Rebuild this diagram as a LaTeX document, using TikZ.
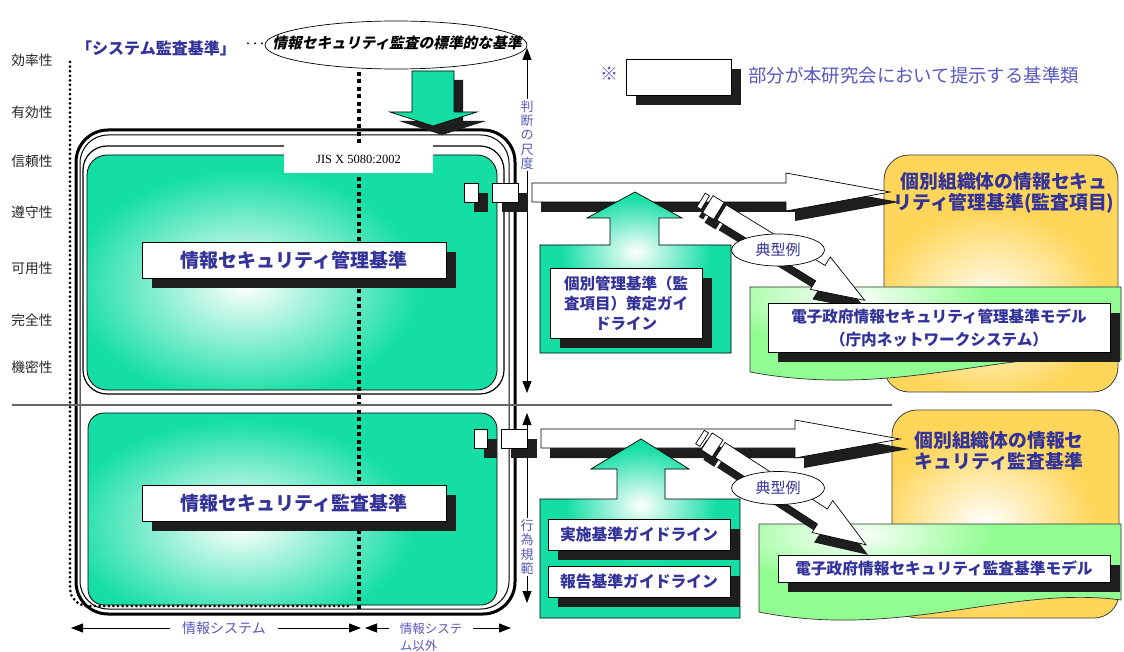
\documentclass[tikz,border=0pt]{standalone}
\usepackage{fontspec}
\setmainfont{Noto Sans CJK JP}
\newfontfamily\jisfont{Liberation Serif}
\newfontfamily\cjkbi{Noto Sans CJK JP}[FakeSlant=0.22,BoldFeatures={FakeSlant=0.22}]
\usetikzlibrary{shapes.geometric,arrows.meta,shadows}
\definecolor{tealc}{RGB}{20,222,164}
\definecolor{ylwc}{RGB}{255,214,90}
\definecolor{lgreen}{RGB}{145,252,145}
\definecolor{txtblue}{RGB}{51,51,153}
\definecolor{lblue}{RGB}{88,88,190}
\definecolor{shadowc}{RGB}{30,30,30}

\newcommand{\GradShape}[6]{%
  \begin{scope}
    \clip #1;
    \fill[#2] #1;
    \shade[inner color=white, outer color=#2] #3 ellipse [x radius=#4, y radius=#5];
  \end{scope}
  \draw[#6] #1;
}
\newcommand{\StripeShape}[2]{%
  \path[#2] (0,-8) rectangle (5,8);
  \path[#2] (8,-10) rectangle (21,10);
  \path[#2] (24,-9) -- ({#1-52},-9) -- ({#1-52},-19) -- (#1,0) -- ({#1-52},19) -- ({#1-52},9) -- (24,9) -- cycle;
}
\newcommand{\StripeArrow}[3]{%
  \begin{scope}[shift={#1}, xshift=2pt, yshift=-10pt, rotate=-#2]
    \StripeShape{#3}{fill=shadowc}
  \end{scope}
  \begin{scope}[shift={#1}, rotate=-#2]
    \StripeShape{#3}{draw=black, fill=white, line width=0.7pt}
  \end{scope}
}

\begin{document}
\begin{tikzpicture}[x=1pt,y=-1pt,
  lab/.style={font=\fontsize{13.7}{16}\selectfont, text=black!85, inner sep=0pt},
  tbox/.style={draw=black, fill=white, line width=0.7pt, inner sep=0pt, text=txtblue, align=center,
    drop shadow={shadow xshift=10pt, shadow yshift=-10pt, fill=shadowc, opacity=1}},
  sq/.style={draw=black, fill=white, line width=0.7pt, inner sep=0pt,
    drop shadow={shadow xshift=10pt, shadow yshift=-10pt, fill=shadowc, opacity=1}},
  dblarrow/.style={line width=0.9pt, {Triangle[length=12pt,width=9pt]}-{Triangle[length=12pt,width=9pt]}},
  vlab/.style={fill=white, inner sep=1.5pt, align=center, text=lblue, font=\fontsize{13}{14.3}\selectfont},
  blab/.style={fill=white, inner ysep=1pt, text=lblue},
  tt/.style={text=txtblue, font=\bfseries\fontsize{18.8}{21}\selectfont, align=center, inner sep=0pt},
  ell/.style={draw=black, fill=white, ellipse, line width=0.7pt, inner sep=0pt},
  whitearrow/.style={draw=black, fill=white, line width=0.7pt},
]
\useasboundingbox (0,0) rectangle (1124,652);
\fill[white] (0,0) rectangle (1124,652);

% left labels
\foreach \t/\yy/\n in {効率性/60/a,有効性/112/b,信頼性/161/c,遵守性/212/d,可用性/268/e,完全性/320/f,機密性/367/g}
  \node[lab] (lab\n) at (32,\yy) {\t};

% top texts
\node[text=txtblue, font=\bfseries\fontsize{16}{18}\selectfont, inner sep=0pt] (sysaudit) at (156,48) {「システム監査基準」};
\node[font=\bfseries\fontsize{7}{8}\selectfont, inner sep=0pt] (dots) at (255,45) {・・・};
\node[ell, minimum width=262, minimum height=48] (stdell) at (396,45) {};
\node[font=\cjkbi\bfseries\fontsize{14.7}{16}\selectfont, inner sep=0pt] (stdtxt) at (397,43) {情報セキュリティ監査の標準的な基準};

% frames
\draw[line width=3pt, rounded corners=32pt] (76,130) rectangle (515,614);
\draw[line width=1pt, rounded corners=28pt] (80,135) rectangle (509,609);
\draw[line width=1.2pt, rounded corners=24pt] (83,146) rectangle (504,394);

% teal boxes
\GradShape{[rounded corners=20pt] (87,155) rectangle (497,390)}{tealc}{(245,285)}{175pt}{115pt}{draw=black, line width=0.8pt}
\GradShape{[rounded corners=16pt] (88,413) rectangle (497,605)}{tealc}{(240,525)}{175pt}{105pt}{draw=black, line width=0.8pt}

% dotted boundaries
\draw[line width=3pt, dash pattern=on 0pt off 4.6pt, line cap=round, rounded corners=18pt] (70,62) -- (70,606) -- (352,606);
\draw[line width=3.2pt, dash pattern=on 4pt off 3.5pt] (359,72) -- (359,612);

% separator
\draw[black!60, line width=1.3pt] (12,405) -- (892,405);

% labels in teal boxes
\node[fill=white, inner sep=0pt, minimum width=149, minimum height=28, font=\jisfont\fontsize{12.5}{14}\selectfont] (jis) at (358.5,159) {JIS X 5080:2002};
\node[tbox, minimum width=304, minimum height=36, font=\bfseries\fontsize{19}{22}\selectfont] (kanri) at (294,260) {情報セキュリティ管理基準};
\node[tbox, minimum width=304, minimum height=36, font=\bfseries\fontsize{19}{22}\selectfont] (kansa) at (294,503) {情報セキュリティ監査基準};

% green down arrow
\fill[shadowc, shift={(9,9)}] (412,71) -- (454,71) -- (454,112) -- (477,112) -- (433,126) -- (390,112) -- (412,112) -- cycle;
\draw[fill=tealc, line width=0.7pt] (412,71) -- (454,71) -- (454,112) -- (477,112) -- (433,126) -- (390,112) -- (412,112) -- cycle;

% vertical arrows
\coordinate (jt) at (527,48); \coordinate (jb) at (527,393);
\draw[dblarrow] (jt) -- (jb);
\node[vlab] (jlab) at (527,135) {判\\断\\の\\尺\\度};
\coordinate (kt) at (527,413); \coordinate (kb) at (527,603);
\draw[dblarrow] (kt) -- (kb);
\node[vlab] (klab) at (527,547) {行\\為\\規\\範};

% yellow boxes
\GradShape{[rounded corners=25pt] (884,155) rectangle (1118,392)}{ylwc}{(990,305)}{115pt}{95pt}{draw=black!75, line width=0.8pt}
\GradShape{[rounded corners=25pt] (892,410) rectangle (1119,618)}{ylwc}{(985,525)}{110pt}{90pt}{draw=black!75, line width=0.8pt}
\node[tt] (org1) at (1004,193) {個別組織体の情報セキュ\\リティ管理基準(監査項目)};
\node[tt] (org2) at (999,451) {個別組織体の情報セ\\キュリティ監査基準};

% light green document shapes
\GradShape{(750,287) -- (1121,287) -- (1121,360) .. controls (1010,345) and (900,400) .. (750,372) -- cycle}{lgreen}{(850,298)}{140pt}{48pt}{draw=black!80, line width=0.7pt}
\GradShape{(759,524) -- (1121,524) -- (1121,600) .. controls (1010,585) and (900,640) .. (759,612) -- cycle}{lgreen}{(855,535)}{140pt}{48pt}{draw=black!80, line width=0.7pt}

% white arrows
\fill[shadowc, shift={(9,10)}] (532,183) -- (786,183) -- (786,173) -- (890,192) -- (786,211) -- (786,202) -- (532,202) -- cycle;
\draw[whitearrow] (532,183) -- (786,183) -- (786,173) -- (890,192) -- (786,211) -- (786,202) -- (532,202) -- cycle;
\fill[shadowc, shift={(9,10)}] (541,429) -- (795,429) -- (795,420) -- (900,439) -- (795,458) -- (795,448) -- (541,448) -- cycle;
\draw[whitearrow] (541,429) -- (795,429) -- (795,420) -- (900,439) -- (795,458) -- (795,448) -- (541,448) -- cycle;

% green composites
\GradShape{(540,245) -- (610,245) -- (610,218) -- (587,218) -- (635,192) -- (682,218) -- (659,218) -- (659,245) -- (731,245) -- (731,353) -- (540,353) -- cycle}{tealc}{(636,252)}{75pt}{55pt}{draw=black, line width=0.7pt}
\GradShape{(540,499) -- (617,499) -- (617,469) -- (591,469) -- (641,439) -- (689,469) -- (665,469) -- (665,499) -- (740,499) -- (740,618) -- (540,618) -- cycle}{tealc}{(641,505)}{75pt}{58pt}{draw=black, line width=0.7pt}
\node[tbox, minimum width=152, minimum height=70, font=\bfseries\fontsize{15.5}{20}\selectfont] (guide) at (626,303) {個別管理基準（監\\査項目）策定ガイ\\ドライン};
\node[tbox, minimum width=182, minimum height=31, font=\bfseries\fontsize{15.8}{18}\selectfont] (jisshi) at (639,534.5) {実施基準ガイドライン};
\node[tbox, minimum width=182, minimum height=31, font=\bfseries\fontsize{15.8}{18}\selectfont] (houkoku) at (639,581.5) {報告基準ガイドライン};

% striped arrows
\StripeArrow{(701,200)}{31.5}{192}
\StripeArrow{(700,437)}{33}{198}

% model boxes
\node[tbox, minimum width=342, minimum height=49, font=\bfseries\fontsize{15.6}{23}\selectfont] (model1) at (939,327.5) {電子政府情報セキュリティ管理基準モデル\\（庁内ネットワークシステム）};
\node[tbox, minimum width=332, minimum height=27, font=\bfseries\fontsize{15.7}{18}\selectfont] (model2) at (944,568.5) {電子政府情報セキュリティ監査基準モデル};

% typical example ellipses
\node[ell, minimum width=93, minimum height=32, text=txtblue, font=\fontsize{15}{17}\selectfont] (ex1) at (778,250) {典型例};
\node[ell, minimum width=93, minimum height=33, text=txtblue, font=\fontsize{15}{17}\selectfont] (ex2) at (778,488) {典型例};

% small squares
\node[sq, minimum width=14, minimum height=19] (sqa1) at (471,192.5) {};
\node[sq, minimum width=26, minimum height=19] (sqb1) at (505,192.5) {};
\node[sq, minimum width=13, minimum height=19] (sqa2) at (480.5,438.5) {};
\node[sq, minimum width=26, minimum height=19] (sqb2) at (514,438.5) {};

% legend
\node[text=lblue, font=\fontsize{18}{20}\selectfont, inner sep=0pt] (kome) at (609,74) {※};
\node[sq, minimum width=105, minimum height=36] (legbox) at (678.5,77) {};
\node[anchor=west, text=lblue, font=\fontsize{18.4}{20}\selectfont, inner sep=0pt] (legtxt) at (748,76) {部分が本研究会において提示する基準類};

% bottom arrows
\coordinate (isL) at (71,628); \coordinate (isR) at (361,628);
\draw[dblarrow] (isL) -- (isR);
\node[blab, inner xsep=12pt, font=\fontsize{14}{17}\selectfont] (isys) at (224,628) {情報システム};
\coordinate (osL) at (365,628); \coordinate (osR) at (511,628);
\draw[dblarrow] (osL) -- (osR);
\node[blab, inner xsep=11pt, align=left, font=\fontsize{12.5}{17}\selectfont] (osys) at (431,637) {情報システ\\ム以外};
\end{tikzpicture}
\end{document}
